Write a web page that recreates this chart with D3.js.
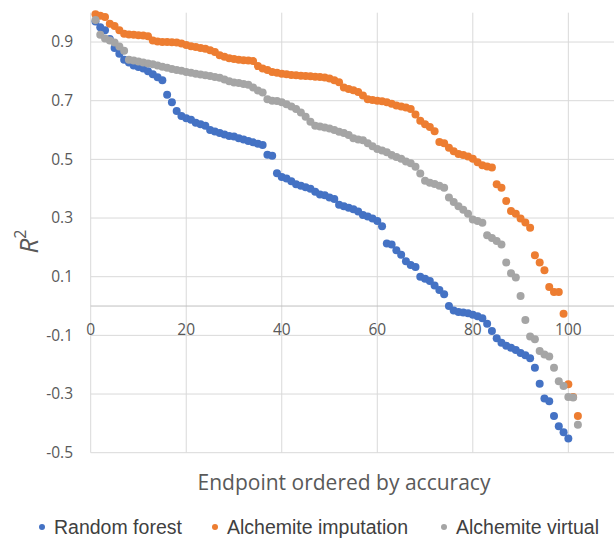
<!DOCTYPE html>
<html>
<head>
<meta charset="utf-8">
<script src="https://cdn.jsdelivr.net/npm/d3@7"></script>
<style>
    body { margin: 0; background: #fff; }
    .grid line { stroke: #d9d9d9; stroke-width: 1; }
    .tick-label { font-family: "Open Sans", sans-serif; font-size: 15.5px; fill: #595959; }
</style>
</head>
<body>
<script>
// R^2 per endpoint, each series sorted by accuracy

var randomForest = [
    0.97, 0.95, 0.94, 0.91, 0.88, 0.86, 0.84, 0.83, 0.82, 0.815,
    0.81, 0.80, 0.79, 0.78, 0.77, 0.72, 0.695, 0.665, 0.648, 0.64,
    0.635, 0.625, 0.62, 0.615, 0.60, 0.595, 0.59, 0.585, 0.58, 0.578,
    0.572, 0.568, 0.563, 0.558, 0.553, 0.549, 0.516, 0.512, 0.453, 0.44,
    0.435, 0.425, 0.415, 0.41, 0.405, 0.40, 0.39, 0.38, 0.378, 0.37,
    0.365, 0.345, 0.34, 0.335, 0.33, 0.322, 0.31, 0.305, 0.298, 0.29,
    0.272, 0.213, 0.21, 0.19, 0.175, 0.153, 0.14, 0.133, 0.10, 0.093,
    0.085, 0.07, 0.055, 0.04, 0.0, -0.015, -0.02, -0.022, -0.025, -0.03,
    -0.035, -0.042, -0.06, -0.085, -0.11, -0.125, -0.135, -0.142, -0.15, -0.16,
    -0.168, -0.178, -0.21, -0.265, -0.315, -0.325, -0.375, -0.41, -0.43, -0.452
];

var alchemiteImputation = [
    0.995, 0.99, 0.985, 0.962, 0.955, 0.94, 0.928, 0.926, 0.925, 0.923,
    0.922, 0.92, 0.905, 0.902, 0.90, 0.90, 0.899, 0.898, 0.895, 0.89,
    0.886, 0.883, 0.88, 0.877, 0.872, 0.866, 0.855, 0.85, 0.845, 0.842,
    0.84, 0.838, 0.837, 0.835, 0.818, 0.81, 0.805, 0.798, 0.795, 0.792,
    0.79, 0.788, 0.787, 0.785, 0.784, 0.783, 0.782, 0.781, 0.779, 0.776,
    0.77, 0.763, 0.745, 0.74, 0.736, 0.73, 0.718, 0.705, 0.702, 0.70,
    0.698, 0.695, 0.69, 0.684, 0.68, 0.677, 0.672, 0.653, 0.632, 0.62,
    0.61, 0.596, 0.559, 0.555, 0.54, 0.528, 0.518, 0.515, 0.51, 0.502,
    0.49, 0.48, 0.476, 0.472, 0.415, 0.403, 0.358, 0.324, 0.315, 0.298,
    0.285, 0.267, 0.173, 0.148, 0.122, 0.065, 0.048, 0.048, -0.026, -0.267,
    -0.31, -0.375
];

var alchemiteVirtual = [
    0.975, 0.925, 0.912, 0.905, 0.898, 0.885, 0.87, 0.84, 0.837, 0.834,
    0.83, 0.827, 0.824, 0.82, 0.816, 0.812, 0.808, 0.805, 0.802, 0.798,
    0.795, 0.792, 0.789, 0.787, 0.784, 0.781, 0.778, 0.772, 0.766, 0.762,
    0.76, 0.757, 0.754, 0.745, 0.735, 0.728, 0.705, 0.70, 0.699, 0.695,
    0.688, 0.68, 0.672, 0.66, 0.645, 0.628, 0.615, 0.612, 0.609, 0.605,
    0.60, 0.594, 0.59, 0.583, 0.572, 0.568, 0.565, 0.555, 0.545, 0.535,
    0.53, 0.524, 0.515, 0.508, 0.502, 0.493, 0.487, 0.475, 0.452, 0.427,
    0.42, 0.416, 0.41, 0.403, 0.37, 0.355, 0.34, 0.328, 0.315, 0.295,
    0.29, 0.284, 0.241, 0.232, 0.222, 0.21, 0.148, 0.112, 0.097, 0.034,
    -0.048, -0.104, -0.113, -0.153, -0.165, -0.172, -0.21, -0.256, -0.273, -0.31,
    -0.312, -0.405
];

var seriesNames = ["Random forest", "Alchemite imputation", "Alchemite virtual"];
var seriesColors = ["#4472c4", "#ed7d31", "#a5a5a5"];

var xTicks = [0, 20, 40, 60, 80, 100];
var yTicks = [-0.5, -0.3, -0.1, 0.1, 0.3, 0.5, 0.7, 0.9];


function draw_chart() {
    var width = 614;
    var height = 538;

    var svg = d3.select("body").append("svg")
                .attr("width", width)
                .attr("height", height);

    // plot area runs past the right edge, like the original
    var x = d3.scaleLinear().domain([0, 110]).range([90.7, 616.1]);
    var y = d3.scaleLinear().domain([-0.5, 1.0]).range([452.7, 12.7]);

    // gridlines
    var grid = svg.append("g").attr("class", "grid");
    grid.selectAll("line.v")
        .data(xTicks)
        .enter()
        .append("line")
        .attr("class", "v")
        .attr("x1", function(d) { return x(d); })
        .attr("x2", function(d) { return x(d); })
        .attr("y1", y(1.0))
        .attr("y2", y(-0.5));

    grid.selectAll("line.h")
        .data(yTicks)
        .enter()
        .append("line")
        .attr("class", "h")
        .attr("x1", x(0))
        .attr("x2", x(110))
        .attr("y1", function(d) { return y(d); })
        .attr("y2", function(d) { return y(d); });

    // horizontal axis crosses at zero
    svg.append("line")
        .attr("x1", x(0))
        .attr("x2", x(110))
        .attr("y1", y(0))
        .attr("y2", y(0))
        .attr("stroke", "#bfbfbf")
        .attr("stroke-width", 1);

    // y tick labels (plain hyphen for the minus, as in the original)
    svg.selectAll("text.ylab")
        .data(yTicks)
        .enter()
        .append("text")
        .attr("class", "tick-label")
        .attr("x", 73)
        .attr("y", function(d) { return y(d); })
        .attr("dy", "0.35em")
        .attr("text-anchor", "end")
        .text(function(d) { return d.toFixed(1); });

    // x tick labels, sitting just under the zero line
    svg.selectAll("text.xlab")
        .data(xTicks)
        .enter()
        .append("text")
        .attr("class", "tick-label")
        .attr("x", function(d) { return x(d); })
        .attr("y", y(0) + 24)
        .attr("dy", "0.35em")
        .attr("text-anchor", "middle")
        .text(function(d) { return d; });

    // points
    var allSeries = [randomForest, alchemiteImputation, alchemiteVirtual];
    allSeries.forEach(function(values, i) {
        svg.append("g")
            .selectAll("circle")
            .data(values)
            .enter()
            .append("circle")
            .attr("cx", function(d, j) { return x(j + 1); })
            .attr("cy", function(d) { return y(d); })
            .attr("r", 4)
            .attr("fill", seriesColors[i]);
    });

    // axis titles
    var ytitle = svg.append("text")
        .attr("transform", "translate(38," + y(0.22) + ") rotate(-90)")
        .attr("text-anchor", "middle")
        .attr("font-family", "Open Sans, sans-serif")
        .attr("font-size", "26px")
        .attr("fill", "#595959");
    ytitle.append("tspan").attr("font-style", "italic").text("R");
    ytitle.append("tspan").attr("font-size", "16px").attr("dy", "-0.75em").text("2");

    svg.append("text")
        .attr("x", 344)
        .attr("y", 490)
        .attr("text-anchor", "middle")
        .attr("font-family", "Open Sans, sans-serif")
        .attr("font-size", "21px")
        .attr("fill", "#595959")
        .text("Endpoint ordered by accuracy");

    // legend
    var legendX = [42, 215, 444];
    var legend = svg.selectAll("g.legend")
        .data(seriesNames)
        .enter()
        .append("g")
        .attr("class", "legend")
        .attr("transform", function(d, i) { return "translate(" + legendX[i] + ",527)"; });

    legend.append("circle")
        .attr("r", 3)
        .attr("fill", function(d, i) { return seriesColors[i]; });

    legend.append("text")
        .attr("x", 12)
        .attr("dy", "0.35em")
        .attr("font-family", "Liberation Sans, Arial, sans-serif")
        .attr("font-size", "19.5px")
        .attr("fill", "#404040")
        .text(function(d) { return d; });
}


document.addEventListener("DOMContentLoaded", draw_chart);
</script>
</body>
</html>
